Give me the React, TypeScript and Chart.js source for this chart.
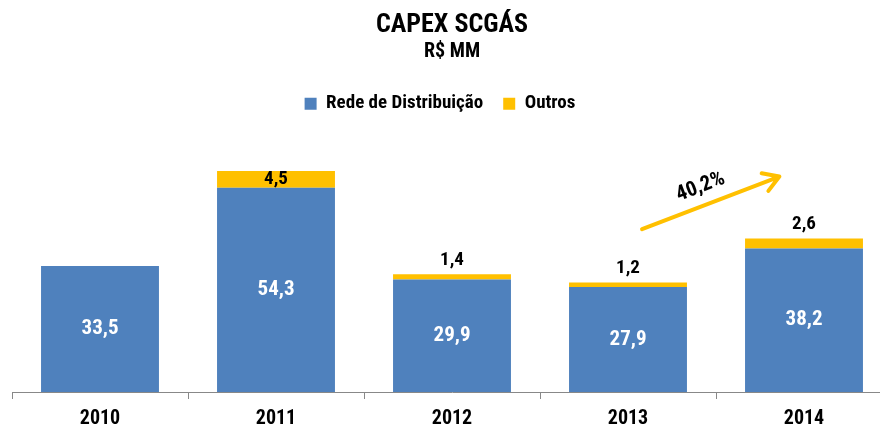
import React, { useEffect, useRef } from 'react';
import { Chart, registerables } from 'chart.js';

Chart.register(...registerables);

const categories = ['2010', '2011', '2012', '2013', '2014'];
const redeValues = [33.5, 54.3, 29.9, 27.9, 38.2];
const outrosValues: (number | null)[] = [null, 4.5, 1.4, 1.2, 2.6];
const seriesNames = ['Rede de Distribuição', 'Outros'];
const growthLabel = '40,2%';
const titleText = 'CAPEX SCGÁS';
const subtitleText = 'R$ MM';

const FONT = "'Roboto Condensed', 'Liberation Sans', sans-serif";
const BLUE = '#4F81BD';
const YELLOW = '#FFC000';

const fmt = (v: number) => v.toFixed(1).replace('.', ',');

const legendShift = {
  id: 'legendShift',
  afterLayout(chart: any) {
    const l = chart.legend;
    if (!l) return;
    l.left -= 12;
    l.right -= 12;
  },
};

const labelPlugin = {
  id: 'barLabels',
  afterDatasetsDraw(chart: any) {
    const ctx = chart.ctx;
    ctx.save();
    ctx.textAlign = 'center';
    ctx.textBaseline = 'middle';
    const m0 = chart.getDatasetMeta(0);
    m0.data.forEach((bar: any, i: number) => {
      const v = redeValues[i];
      if (v == null) return;
      ctx.font = `bold 21px ${FONT}`;
      ctx.fillStyle = '#FFFFFF';
      ctx.fillText(fmt(v), bar.x, (bar.y + bar.base) / 2);
    });
    const m1 = chart.getDatasetMeta(1);
    m1.data.forEach((bar: any, i: number) => {
      const v = outrosValues[i];
      if (v == null) return;
      ctx.font = `bold 19px ${FONT}`;
      ctx.fillStyle = '#000000';
      const h = bar.base - bar.y;
      const y = h > 14 ? (bar.y + bar.base) / 2 : bar.y - 14;
      ctx.fillText(fmt(v), bar.x, y);
    });
    ctx.restore();
  },
};

const arrowPlugin = {
  id: 'growthArrow',
  afterDatasetsDraw(chart: any) {
    const xs = chart.scales.x;
    const ys = chart.scales.y;
    const x1 = xs.getPixelForDecimal((3.08 + 0.5) / categories.length);
    const x2 = xs.getPixelForDecimal((3.86 + 0.5) / categories.length);
    const y1 = ys.getPixelForValue(43.3);
    const y2 = ys.getPixelForValue(57.3);
    const ang = Math.atan2(y2 - y1, x2 - x1);
    const ctx = chart.ctx;
    ctx.save();
    ctx.strokeStyle = YELLOW;
    ctx.lineWidth = 4;
    ctx.lineCap = 'round';
    ctx.lineJoin = 'round';
    ctx.beginPath();
    ctx.moveTo(x1, y1);
    ctx.lineTo(x2, y2);
    const L = 18;
    const spread = 0.55;
    ctx.moveTo(x2 - L * Math.cos(ang - spread), y2 - L * Math.sin(ang - spread));
    ctx.lineTo(x2, y2);
    ctx.lineTo(x2 - L * Math.cos(ang + spread), y2 - L * Math.sin(ang + spread));
    ctx.stroke();
    const mx = (x1 + x2) / 2 - 4;
    const my = (y1 + y2) / 2;
    const off = 17;
    const tx = mx + off * Math.sin(ang);
    const ty = my - off * Math.cos(ang);
    ctx.translate(tx, ty);
    ctx.rotate(ang);
    ctx.font = `bold 21px ${FONT}`;
    ctx.fillStyle = '#000000';
    ctx.textAlign = 'center';
    ctx.textBaseline = 'middle';
    ctx.fillText(growthLabel, 0, 0);
    ctx.restore();
  },
};

export default function App() {
  const ref = useRef<HTMLCanvasElement | null>(null);
  useEffect(() => {
    if (!ref.current) return;
    const chart = new Chart(ref.current, {
      type: 'bar',
      data: {
        labels: categories,
        datasets: [
          {
            label: seriesNames[0],
            data: redeValues,
            backgroundColor: BLUE,
            barPercentage: 0.67,
            categoryPercentage: 1,
          },
          {
            label: seriesNames[1],
            data: outrosValues,
            backgroundColor: YELLOW,
            barPercentage: 0.67,
            categoryPercentage: 1,
          },
        ],
      },
      options: {
        responsive: false,
        animation: false,
        devicePixelRatio: 1,
        layout: { padding: { left: 12, right: 14, bottom: 0, top: 0 } },
        plugins: {
          title: {
            display: true,
            text: titleText,
            color: '#000',
            font: { family: FONT, size: 26, weight: 'bold', lineHeight: 1.2 },
            padding: { top: 10, bottom: 0 },
          },
          subtitle: {
            display: true,
            text: subtitleText,
            color: '#000',
            font: { family: FONT, size: 20, weight: 'bold', lineHeight: 1.1 },
            padding: { top: 0, bottom: 11 },
          },
          legend: {
            display: true,
            position: 'top',
            labels: {
              color: '#000',
              font: { family: FONT, size: 19, weight: 'bold' },
              boxWidth: 12,
              boxHeight: 12,
              padding: 20,
            },
          },
          tooltip: { enabled: false },
        },
        scales: {
          x: {
            stacked: true,
            grid: {
              display: true,
              offset: true,
              drawOnChartArea: false,
              drawTicks: true,
              tickLength: 7,
              color: '#888888',
            },
            border: { display: true, color: '#888888', width: 1 },
            ticks: {
              color: '#000',
              font: { family: FONT, size: 20, weight: 'bold' },
              padding: 8,
            },
          },
          y: {
            stacked: true,
            display: false,
            min: 0,
            max: 71.5,
          },
        },
      },
      plugins: [legendShift, labelPlugin, arrowPlugin],
    });
    return () => chart.destroy();
  }, []);
  return (
    <div style={{ position: 'fixed', left: 0, top: 0, width: 880, height: 434, overflow: 'hidden', background: '#fff' }}>
      <canvas ref={ref} width={906} height={439} style={{ display: 'block' }} />
    </div>
  );
}
